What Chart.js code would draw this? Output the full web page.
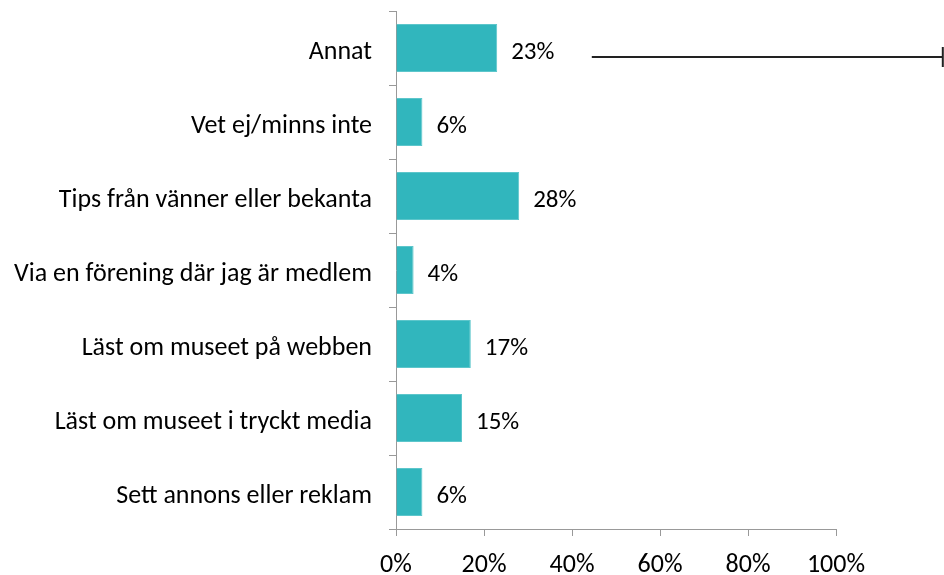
<!DOCTYPE html>
<html>
<head>
<meta charset="utf-8">
<script src="https://cdn.jsdelivr.net/npm/chart.js@4"></script>
<style>
  html, body { margin: 0; padding: 0; background: #fff; }
  #wrap { width: 944px; height: 575px; }
</style>
</head>
<body>
<div id="wrap"><canvas id="myChart" width="944" height="575"></canvas></div>
<script>
// categories, top to bottom
const categories = [
  'Annat',
  'Vet ej/minns inte',
  'Tips från vänner eller bekanta',
  'Via en förening där jag är medlem',
  'Läst om museet på webben',
  'Läst om museet i tryckt media',
  'Sett annons eller reklam'
]
const shares = [23, 6, 28, 4, 17, 15, 6]
const xTicks = [0, 20, 40, 60, 80, 100]

// the stray line next to "Annat" (from / to, in percent units)
const strayLineCategory = 'Annat'
const strayLine = [44.5, 124.5]
const strayLineShift = 0.12   // in category units, below the bar centre

const FONT = "Carlito, 'Open Sans', sans-serif"

const valueLabels = {
  id: 'valueLabels',
  afterDatasetsDraw(chart) {
    const ctx = chart.ctx
    const meta = chart.getDatasetMeta(0)
    ctx.save()
    ctx.font = '25px ' + FONT
    ctx.fillStyle = '#000'
    ctx.textBaseline = 'alphabetic'
    meta.data.forEach((bar, i) => {
      ctx.fillText(shares[i] + '%', bar.x + 14, bar.y + 11)
    })
    ctx.restore()
  }
}

const strayLinePlugin = {
  id: 'strayLine',
  afterDraw(chart) {
    const ctx = chart.ctx
    const x = chart.scales.x, y = chart.scales.y
    const yy = Math.round(y.getPixelForValue(categories.indexOf(strayLineCategory) + strayLineShift))
    const x1 = x.getPixelForValue(strayLine[0])
    const x2 = x.getPixelForValue(strayLine[1])
    ctx.save()
    ctx.strokeStyle = '#222'
    ctx.lineWidth = 2
    ctx.beginPath()
    ctx.moveTo(x1, yy)
    ctx.lineTo(x2 - 1, yy)
    ctx.moveTo(x2 - 1, yy - 10)
    ctx.lineTo(x2 - 1, yy + 10)
    ctx.stroke()
    ctx.restore()
  }
}

const ctx = document.getElementById('myChart').getContext('2d')

new Chart(ctx, {
  type: 'bar',
  data: {
    labels: categories,
    datasets: [{
      data: shares,
      backgroundColor: '#31B6BD',
      borderColor: '#5DC6CB',
      borderWidth: 1,
      categoryPercentage: 1,
      barPercentage: 0.65
    }]
  },
  options: {
    indexAxis: 'y',
    responsive: false,
    animation: false,
    layout: { padding: { top: 11, right: 108, left: 0, bottom: 0 } },
    plugins: {
      legend: { display: false },
      tooltip: { enabled: false }
    },
    scales: {
      x: {
        min: 0,
        max: 100,
        afterBuildTicks: scale => { scale.ticks = xTicks.map(v => ({ value: v })) },
        afterFit: scale => { scale.height = 46; scale.paddingLeft = 0; scale.paddingRight = 0 },
        grid: { drawOnChartArea: false, drawTicks: true, tickLength: 7, color: '#999' },
        border: { color: '#999', width: 1 },
        ticks: {
          padding: 14,
          color: '#000',
          font: { family: FONT, size: 26 },
          callback: v => v + '%'
        }
      },
      y: {
        afterFit: scale => { scale.width = 396; scale.paddingTop = 0; scale.paddingBottom = 0 },
        grid: { offset: true, drawOnChartArea: false, drawTicks: true, tickLength: 7, color: '#999' },
        border: { color: '#999', width: 1 },
        ticks: {
          padding: 17,
          labelOffset: 4,
          color: '#000',
          font: { family: FONT, size: 26 }
        }
      }
    }
  },
  plugins: [valueLabels, strayLinePlugin]
})
</script>
</body>
</html>
